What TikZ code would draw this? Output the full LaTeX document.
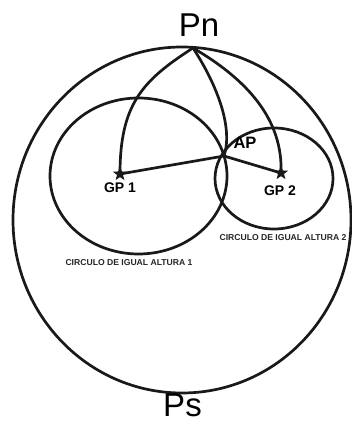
\documentclass[tikz,border=0pt]{standalone}
\usepackage{fontspec}
\setmainfont{Liberation Sans}
\usetikzlibrary{shapes.geometric}

\begin{document}
\begin{tikzpicture}[x=1pt, y=1pt,
  curve/.style={line width=2.7pt, draw=black!90},
  gpstar/.style={star, star points=5, star point ratio=2.4, fill=black!90,
                 minimum size=15pt, inner sep=0pt},
  pole/.style={font=\fontsize{33}{33}\selectfont, anchor=base, inner sep=1pt},
  tag/.style={font=\fontsize{14}{14}\selectfont\bfseries, anchor=base},
  circtag/.style={font=\fontsize{8.6}{9}\selectfont\bfseries, anchor=base, text=black!85}]
\useasboundingbox (0,0) rectangle (352,425);
% circles
\draw[curve] (182,205) ellipse [x radius=169, y radius=173];
\draw[curve] (138.5,249) ellipse [x radius=88.5, y radius=78];
\draw[curve] (274,246.5) ellipse [x radius=59, y radius=50.5];
% points
\coordinate (pn) at (193,377);
\coordinate (ap) at (224,269);
\node[gpstar] (gp1) at (120,251) {};
\node[gpstar] (gp2) at (281,252) {};
% meridians and lines
\draw[curve] (pn) .. controls (142.6,344.6) and (120,321) .. (gp1.center);
\draw[curve] (pn) .. controls (214,345) and (234,300) .. (ap);
\draw[curve] (pn) .. controls (248,345) and (283,305) .. (gp2.center);
\draw[curve] (gp1.center) -- (ap) -- (gp2.center);
% labels
\node[pole] (pnlbl) at (199,388) {Pn};
\node[pole] (pslbl) at (182.5,9) {Ps};
\node[tag] (gp1lbl) at (120,232) {GP 1};
\node[tag] (gp2lbl) at (280,229) {GP 2};
\node[tag, font=\fontsize{16.5}{16.5}\selectfont\bfseries] (aplbl) at (245,276) {AP};
\node[circtag] (c1lbl) at (129,159) {CIRCULO DE IGUAL ALTURA 1};
\node[circtag] (c2lbl) at (283,184) {CIRCULO DE IGUAL ALTURA 2};
\end{tikzpicture}
\end{document}
